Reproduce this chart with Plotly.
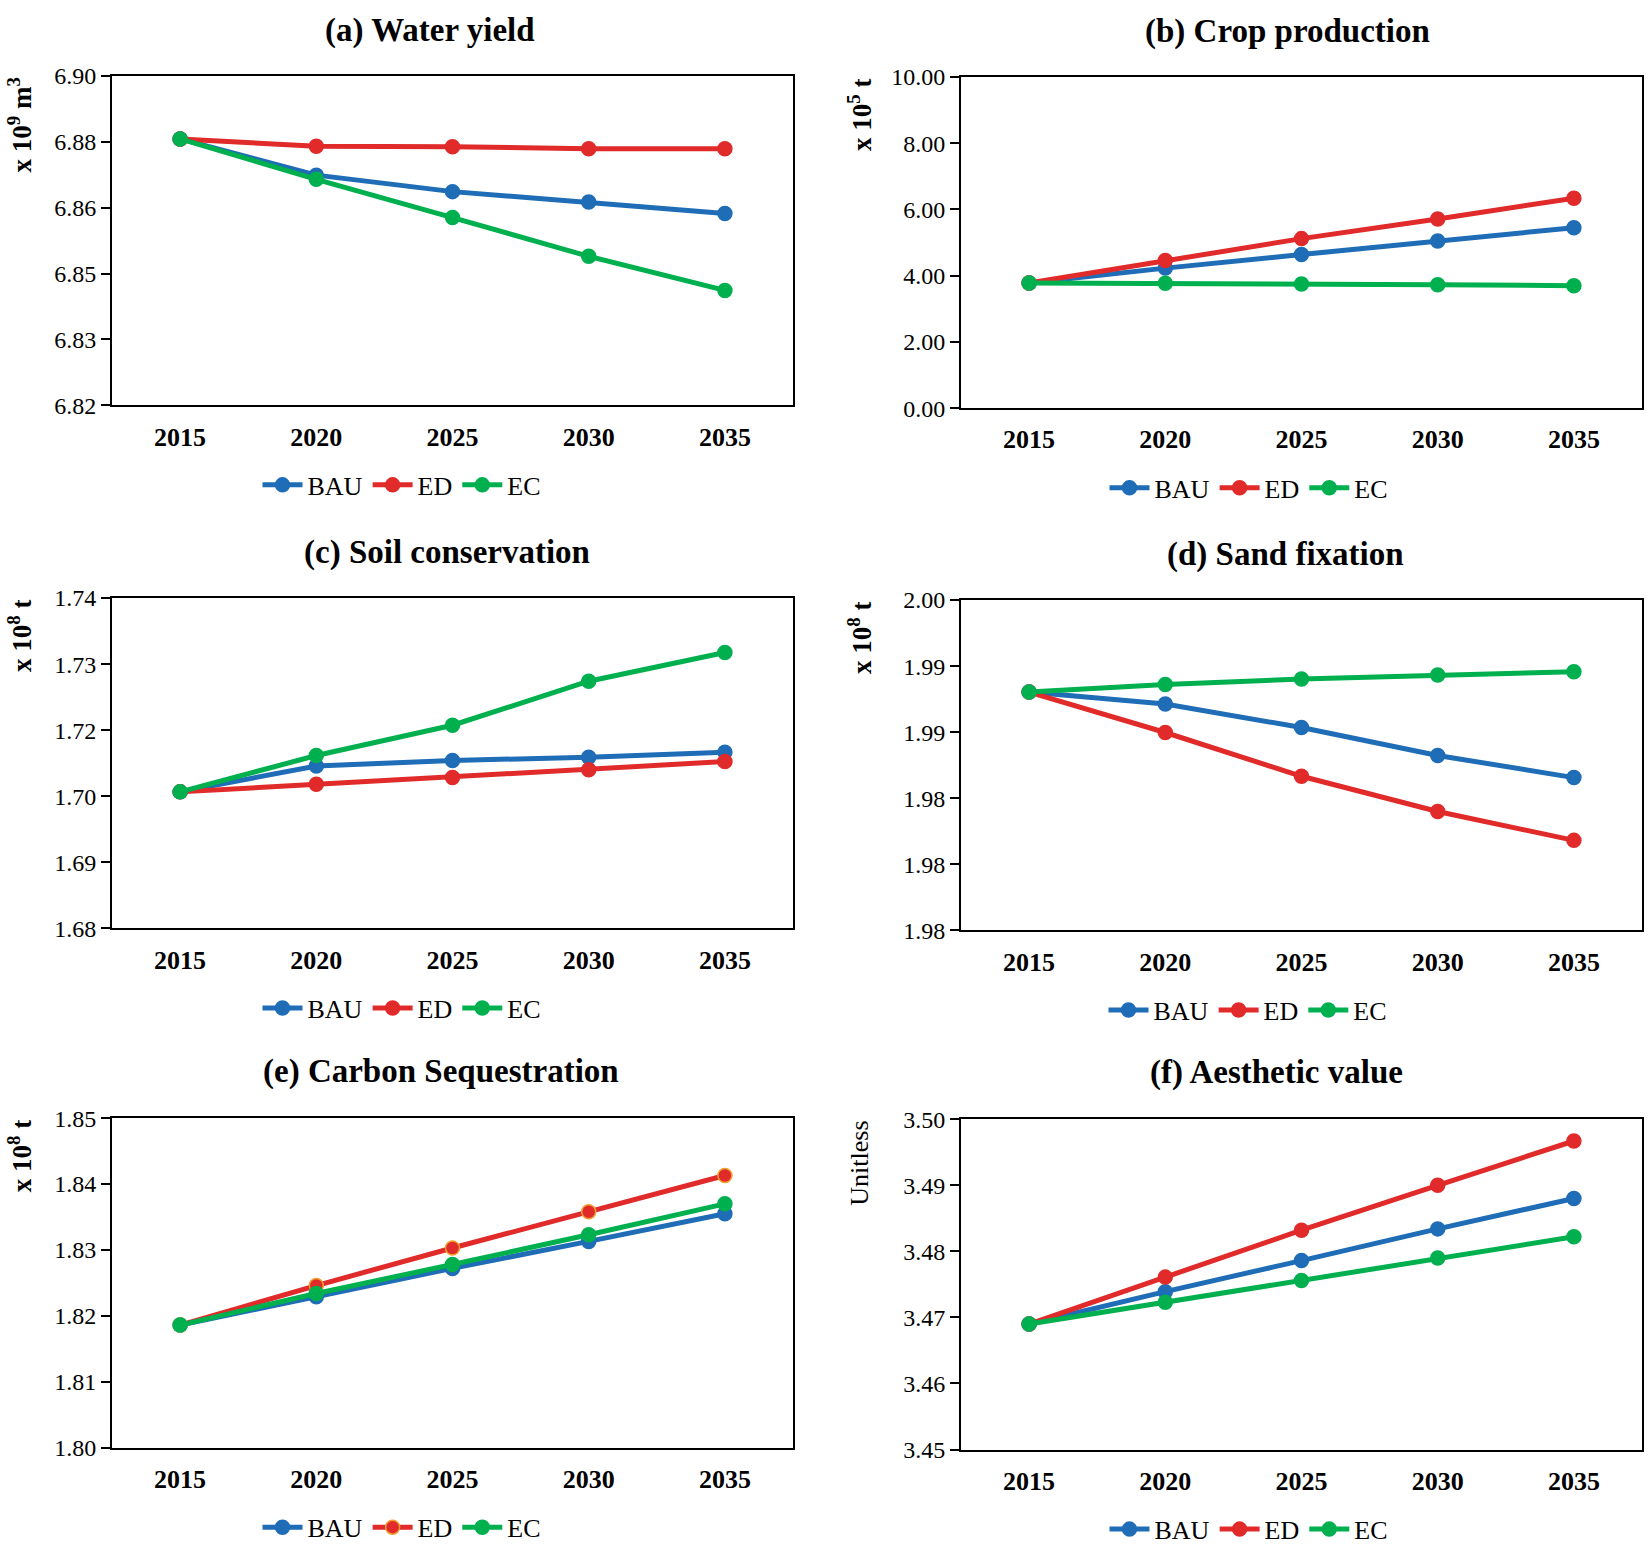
import numpy as np
import plotly.graph_objects as go

years = ['2015', '2020', '2025', '2030', '2035']
scenarios = ['BAU', 'ED', 'EC']

water_bau = [6.8847, 6.8759, 6.8719, 6.8694, 6.8666]
water_ed = [6.8847, 6.8829, 6.8828, 6.8823, 6.8823]
water_ec = [6.8847, 6.8749, 6.8656, 6.8562, 6.8479]

crop_bau = [3.78, 4.23, 4.64, 5.05, 5.45]
crop_ed = [3.78, 4.46, 5.12, 5.71, 6.34]
crop_ec = [3.78, 3.77, 3.75, 3.73, 3.70]

soil_bau = [1.7048, 1.7095, 1.7105, 1.7111, 1.7120]
soil_ed = [1.7048, 1.7062, 1.7074, 1.7088, 1.7103]
soil_ec = [1.7048, 1.7114, 1.7169, 1.7249, 1.7301]

sand_bau = [1.99043, 1.98971, 1.98828, 1.98659, 1.98525]
sand_ed = [1.99043, 1.98798, 1.98533, 1.98320, 1.98145]
sand_ec = [1.99043, 1.99089, 1.99122, 1.99146, 1.99166]

carbon_bau = [1.8186, 1.8229, 1.8272, 1.8313, 1.8355]
carbon_ed = [1.8186, 1.8246, 1.8303, 1.8358, 1.8413]
carbon_ec = [1.8186, 1.8234, 1.8278, 1.8323, 1.8370]

aes_bau = [3.4690, 3.4739, 3.4786, 3.4834, 3.4880]
aes_ed = [3.4690, 3.4761, 3.4832, 3.4900, 3.4967]
aes_ec = [3.4690, 3.4723, 3.4756, 3.4790, 3.4822]

titles = ['(a) Water yield', '(b) Crop production', '(c) Soil conservation',
          '(d) Sand fixation', '(e) Carbon Sequestration', '(f) Aesthetic value']
ytitles = ['x 10<sup>9</sup> m<sup>3</sup>', 'x 10<sup>5</sup> t',
           'x 10<sup>8</sup> t', 'x 10<sup>8</sup> t',
           'x 10<sup>8</sup> t', 'Unitless']
ytitle_weight = ['bold', 'bold', 'bold', 'bold', 'bold', 'normal']

y_ranges = [(6.82, 6.90), (0.0, 10.0), (1.68, 1.74), (1.976, 1.996), (1.80, 1.85), (3.45, 3.50)]
y_ticktext = [
    ['6.82', '6.83', '6.85', '6.86', '6.88', '6.90'],
    ['0.00', '2.00', '4.00', '6.00', '8.00', '10.00'],
    ['1.68', '1.69', '1.70', '1.72', '1.73', '1.74'],
    ['1.98', '1.98', '1.98', '1.99', '1.99', '2.00'],
    ['1.80', '1.81', '1.82', '1.83', '1.84', '1.85'],
    ['3.45', '3.46', '3.47', '3.48', '3.49', '3.50'],
]

series = [
    (water_bau, water_ed, water_ec),
    (crop_bau, crop_ed, crop_ec),
    (soil_bau, soil_ed, soil_ec),
    (sand_bau, sand_ed, sand_ec),
    (carbon_bau, carbon_ed, carbon_ec),
    (aes_bau, aes_ed, aes_ec),
]

colors = {'BAU': '#1f6cb7', 'ED': '#e12a2a', 'EC': '#00b04f'}

W, H = 1650, 1555
# plot boxes in page pixels: (left, right, top, bottom)
boxes = [
    (112, 793, 64, 399),
    (961, 1642, 65, 402),
    (112, 793, 595, 931),
    (961, 1642, 597, 933),
    (112, 793, 1124, 1459),
    (961, 1642, 1125, 1461),
]
title_pos = [(430, 18), (1287, 19), (447, 549), (1285, 551), (441, 1076), (1276, 1078)]
legend_pos = [(402, 480), (1249, 483), (402, 1012), (1248, 1014), (402, 1540), (1249, 1542)]
ytitle_x = [20, 860, 20, 860, 20, 860]

FONT = 'Liberation Serif'

fig = go.Figure()
layout = dict(width=W, height=H, margin=dict(l=0, r=0, t=0, b=0),
              paper_bgcolor='white', plot_bgcolor='white',
              font=dict(family=FONT, color='black', size=24), annotations=[])


def px_x(v):
    return v / W


def px_y(v):
    return 1 - v / H


for i in range(6):
    n = i + 1
    xa = 'x' if n == 1 else f'x{n}'
    ya = 'y' if n == 1 else f'y{n}'
    lg = 'legend' if n == 1 else f'legend{n}'
    for name, vals in zip(scenarios, series[i]):
        mline = colors[name]
        if i == 4 and name == 'ED':
            mline = '#f0a030'
        fig.add_trace(go.Scatter(
            x=years, y=vals, name=name, mode='lines+markers',
            line=dict(color=colors[name], width=5),
            marker=dict(color=colors[name], size=14, line=dict(color=mline, width=1.5)),
            xaxis=xa, yaxis=ya, legend=lg, showlegend=True))
    l, r, t, b = boxes[i]
    lo, hi = y_ranges[i]
    tv = list(np.linspace(lo, hi, 6))
    layout['xaxis' if n == 1 else f'xaxis{n}'] = dict(
        domain=[px_x(l), px_x(r)], anchor=ya, type='category', range=[-0.5, 4.5],
        showline=True, mirror=True, linecolor='black', linewidth=2,
        showgrid=False, zeroline=False, ticks='', ticklabelstandoff=7,
        tickfont=dict(family=FONT, size=26, color='black', weight='bold'))
    layout['yaxis' if n == 1 else f'yaxis{n}'] = dict(
        domain=[px_y(b), px_y(t)], anchor=xa, range=[lo, hi], tickmode='array',
        tickvals=tv, ticktext=y_ticktext[i],
        showline=True, mirror=True, linecolor='black', linewidth=2,
        showgrid=False, zeroline=False, ticks='outside', ticklen=9,
        tickwidth=2, tickcolor='black',
        tickfont=dict(family=FONT, size=24, color='black'))
    tx, ty = title_pos[i]
    layout['annotations'].append(dict(
        text=titles[i], x=px_x(tx), y=px_y(ty),
        xref='paper', yref='paper', xanchor='center', yanchor='middle',
        showarrow=False, font=dict(family=FONT, size=33, color='black', weight='bold')))
    layout['annotations'].append(dict(
        text=ytitles[i], x=px_x(ytitle_x[i]), y=px_y(t),
        xref='paper', yref='paper', xanchor='center', yanchor='top',
        textangle=-90, showarrow=False,
        font=dict(family=FONT, size=27 if ytitle_weight[i] == 'bold' else 26,
                  color='black', weight=ytitle_weight[i])))
    lx, ly = legend_pos[i]
    layout[lg] = dict(
        orientation='h', x=px_x(lx), y=px_y(ly),
        xanchor='center', yanchor='middle', bgcolor='rgba(0,0,0,0)',
        font=dict(family=FONT, size=26, color='black'), itemwidth=40,
        tracegroupgap=0)

fig.update_layout(**layout)
fig.write_html("out.html", config={'displayModeBar': False},
               post_script="document.body.style.margin='0px';")
